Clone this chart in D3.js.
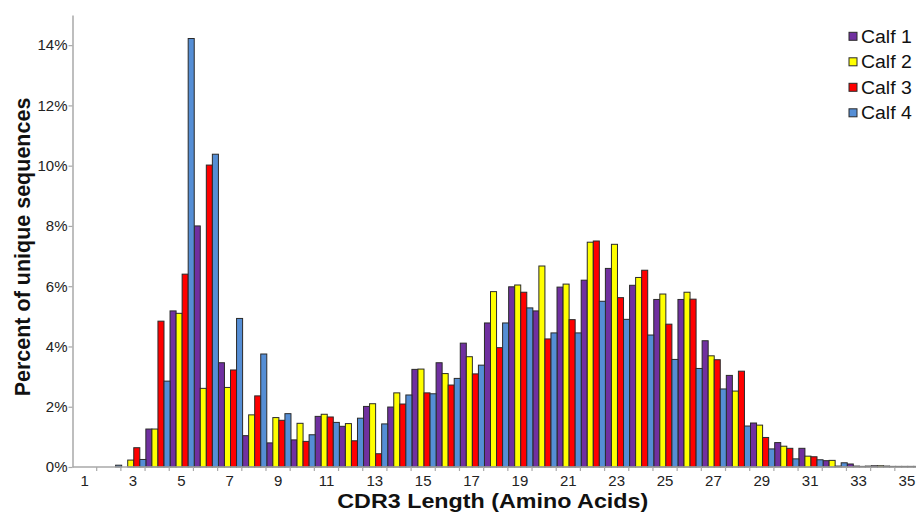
<!DOCTYPE html>
<html>
<head>
<meta charset="utf-8">
<script src="https://cdn.jsdelivr.net/npm/d3@7"></script>
<style>
  html, body { margin: 0; padding: 0; background: #fff; }
  svg { display: block; font-family: "Liberation Sans", Arial, sans-serif; }
</style>
</head>
<body>
<svg id="chart" width="916" height="514"></svg>
<script>
// ---- data ----
const categories = [1,2,3,4,5,6,7,8,9,10,11,12,13,14,15,16,17,18,19,20,21,22,23,24,25,26,27,28,29,30,31,32,33,34,35];
const seriesNames = ["Calf 1", "Calf 2", "Calf 3", "Calf 4"];
const calf1 = [0,0,0,1.26,5.18,8.0,3.46,1.04,0.8,0.9,1.68,1.35,2.01,1.99,3.24,3.46,4.11,4.78,5.98,5.18,5.97,6.2,6.59,6.03,5.56,5.56,4.19,3.04,1.46,0.81,0.62,0.21,0.1,0.04,0.02];
const calf2 = [0,0,0.23,1.26,5.1,2.61,2.64,1.73,1.64,1.45,1.75,1.44,2.1,2.46,3.25,3.1,3.66,5.82,6.04,6.67,6.07,7.46,7.39,6.29,5.74,5.8,3.69,2.52,1.39,0.69,0.36,0.22,0.03,0.04,0.02];
const calf3 = [0,0,0.64,4.84,6.4,10.02,3.22,2.36,1.55,0.85,1.66,0.87,0.44,2.09,2.46,2.72,3.09,3.96,5.8,4.25,4.89,7.5,5.62,6.53,4.74,5.57,3.56,3.18,0.98,0.62,0.34,0.03,0.02,0.03,0.02];
const calf4 = [0,0.06,0.25,2.85,14.22,10.38,4.93,3.75,1.77,1.07,1.48,1.62,1.43,2.39,2.43,2.94,3.38,4.78,5.28,4.45,4.45,5.5,4.9,4.38,3.57,3.27,2.59,1.36,0.6,0.27,0.24,0.14,0.03,0.02,0.02];
const xTickLabels = [1,3,5,7,9,11,13,15,17,19,21,23,25,27,29,31,33,35];
const yTickValues = [0,2,4,6,8,10,12,14];
const colors = ["#7030A0", "#FFFF00", "#FF0000", "#558ED5"];

const seriesData = [calf1, calf2, calf3, calf4];

const svg = d3.select("#chart");
const axisColor = "#a9a9a9";

const x = d3.scaleBand().domain(categories).range([72.5, 919]).paddingInner(0).paddingOuter(0);
const sub = d3.scaleBand().domain(d3.range(seriesNames.length)).range([0.8, x.bandwidth() + 0.8]);
const y = d3.scaleLinear().domain([0, 15]).range([467, 15]);

// bars
const groups = svg.append("g").selectAll("g")
  .data(seriesData)
  .join("g")
  .attr("fill", (d, i) => colors[i]);

groups.each(function(vals, si) {
  d3.select(this).selectAll("rect")
    .data(categories.map((c, ci) => ({c, v: vals[ci]})).filter(d => d.v > 0))
    .join("rect")
    .attr("x", d => x(d.c) + sub(si))
    .attr("width", sub.bandwidth())
    .attr("y", d => y(d.v))
    .attr("height", d => y(0) - y(d.v))
    .attr("stroke", "#2a2a2a")
    .attr("stroke-width", 1);
});

// y axis
const yAxis = svg.append("g")
  .attr("transform", "translate(72.5,0)")
  .call(d3.axisLeft(y).tickValues(yTickValues).tickFormat(d => d + "%").tickSize(4).tickPadding(1).tickSizeOuter(0));
yAxis.select(".domain").attr("stroke", axisColor).attr("stroke-width", 1.5);
yAxis.selectAll(".tick line").attr("stroke", axisColor).attr("stroke-width", 1.2);
yAxis.selectAll(".tick text").attr("font-size", 15).attr("fill", "#222").attr("font-family", "Liberation Sans, Arial, sans-serif");

// x axis line
svg.append("line")
  .attr("x1", 72.5).attr("x2", 916).attr("y1", y(0)).attr("y2", y(0))
  .attr("stroke", axisColor).attr("stroke-width", 1.5);

// category boundary ticks
svg.append("g").selectAll("line")
  .data(categories)
  .join("line")
  .attr("x1", d => x(d) + x.bandwidth())
  .attr("x2", d => x(d) + x.bandwidth())
  .attr("y1", y(0)).attr("y2", y(0) + 4)
  .attr("stroke", axisColor).attr("stroke-width", 1.2);

// x labels
const xAxis = svg.append("g")
  .attr("transform", `translate(0,${y(0)})`)
  .call(d3.axisBottom(x).tickValues(xTickLabels).tickSize(0).tickPadding(8));
xAxis.select(".domain").remove();
xAxis.selectAll(".tick text").attr("font-size", 15).attr("fill", "#222").attr("font-family", "Liberation Sans, Arial, sans-serif");

// titles
svg.append("text")
  .attr("x", 492.8).attr("y", 507.5)
  .attr("text-anchor", "middle")
  .attr("font-size", 20.5).attr("font-weight", "bold").attr("fill", "#111")
  .attr("textLength", 311).attr("lengthAdjust", "spacingAndGlyphs")
  .text("CDR3 Length (Amino Acids)");

svg.append("text")
  .attr("transform", "translate(30,247) rotate(-90)")
  .attr("text-anchor", "middle")
  .attr("font-size", 21.5).attr("font-weight", "bold").attr("fill", "#111")
  .text("Percent of unique sequences");

// legend
const legend = svg.append("g").selectAll("g")
  .data(seriesNames)
  .join("g")
  .attr("transform", (d, i) => `translate(849,${36.3 + i * 25.5})`);
legend.append("rect")
  .attr("x", 0).attr("y", -4).attr("width", 8).attr("height", 8)
  .attr("fill", (d, i) => colors[i]).attr("stroke", "#2a2a2a").attr("stroke-width", 1);
legend.append("text")
  .attr("x", 12).attr("y", 6.5)
  .attr("font-size", 18).attr("fill", "#111")
  .text(d => d)
  .each(function() {
    const w = this.getComputedTextLength();
    d3.select(this).attr("textLength", w * 1.08).attr("lengthAdjust", "spacingAndGlyphs");
  });
</script>
</body>
</html>
